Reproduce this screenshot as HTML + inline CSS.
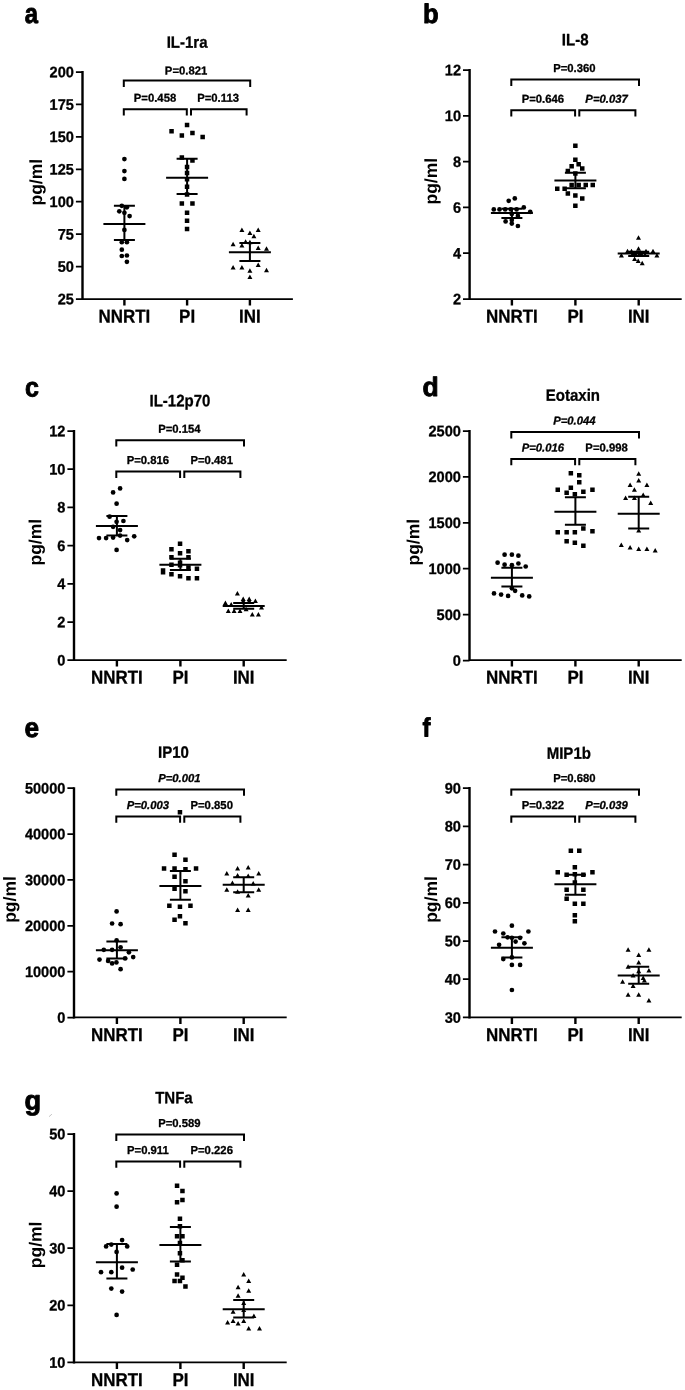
<!DOCTYPE html>
<html><head><meta charset="utf-8"><title>Figure</title>
<style>
html,body{margin:0;padding:0;background:#fff;}
svg{display:block;filter:grayscale(1);}
text{font-family:"Liberation Sans",Arial,sans-serif;font-weight:bold;fill:#000;stroke:#000;stroke-width:0.3px;stroke-linejoin:round;}
.lab{font-size:28px;stroke-width:0.9px;}
.ttl{font-size:16.5px;text-anchor:middle;}
.tk{font-size:15.2px;text-anchor:end;}
.xl{font-size:18.5px;text-anchor:middle;}
.yl{font-size:17.5px;text-anchor:middle;stroke-width:0;}
.p{font-size:11.5px;text-anchor:middle;}
.pi{font-size:11.5px;text-anchor:middle;font-style:italic;}
.ln{stroke:#000;stroke-width:2.0;fill:none;stroke-linecap:butt;}
.ax{stroke:#000;stroke-width:2.4;fill:none;stroke-linecap:butt;}
.hx{stroke:#000;stroke-width:1.75;fill:none;stroke-linecap:butt;}
</style></head><body>
<svg width="685" height="1390" viewBox="0 0 685 1390">
<rect width="685" height="1390" fill="#fff"/>

<g>
<text class="lab" style="font-size:28px" transform="translate(24.7 23) rotate(0.03) scale(0.85 1)">a</text>
<text class="ttl" transform="translate(187.1 47.8) rotate(0.03) scale(0.91 1)">IL-1ra</text>
<path class="ax" d="M82.5 71V300M124.4 299V305.6M187.1 299V305.6M249.9 299V305.6"/>
<path class="hx" d="M82.5 299H292.9M75.9 72H82.5M75.9 104.4H82.5M75.9 136.9H82.5M75.9 169.3H82.5M75.9 201.7H82.5M75.9 234.2H82.5M75.9 266.6H82.5M75.9 299H82.5"/>
<text class="tk" transform="translate(73.9 77.2) rotate(0.03) scale(0.96 1)">200</text>
<text class="tk" transform="translate(73.9 109.7) rotate(0.03) scale(0.96 1)">175</text>
<text class="tk" transform="translate(73.9 142.1) rotate(0.03) scale(0.96 1)">150</text>
<text class="tk" transform="translate(73.9 174.5) rotate(0.03) scale(0.96 1)">125</text>
<text class="tk" transform="translate(73.9 207) rotate(0.03) scale(0.96 1)">100</text>
<text class="tk" transform="translate(73.9 239.4) rotate(0.03) scale(0.96 1)">75</text>
<text class="tk" transform="translate(73.9 271.8) rotate(0.03) scale(0.96 1)">50</text>
<text class="tk" transform="translate(73.9 304.3) rotate(0.03) scale(0.96 1)">25</text>
<text class="xl" transform="translate(124.4 322.6) rotate(0.03) scale(0.915 1)">NNRTI</text>
<text class="xl" transform="translate(187.1 322.6) rotate(0.03) scale(0.915 1)">PI</text>
<text class="xl" transform="translate(249.9 322.6) rotate(0.03) scale(0.915 1)">INI</text>
<text class="yl" transform="translate(41.9 182.2) rotate(-89.97)">pg/ml</text>
<path class="ln" d="M123.8 86.9V80.6H250.2V86.9M123.8 115.6V109.3H186.8V115.6M191 115.6V109.3H246.6V115.6"/>
<text class="p" transform="translate(186.1 74.4) rotate(0.03) scale(0.985 1)">P=0.821</text>
<text class="p" transform="translate(155 101.8) rotate(0.03) scale(0.985 1)">P=0.458</text>
<text class="p" transform="translate(218.1 101.8) rotate(0.03) scale(0.985 1)">P=0.113</text>
<path class="ln" d="M103.4 224.1H145.4M113.9 205.8H134.9M113.9 239.9H134.9M124.4 205.8V239.9"/>
<circle cx="124.4" cy="159.1" r="2.35"/>
<circle cx="124.4" cy="171.1" r="2.35"/>
<circle cx="124.4" cy="178.9" r="2.35"/>
<circle cx="121.8" cy="205.8" r="2.35"/>
<circle cx="126.9" cy="207.3" r="2.35"/>
<circle cx="119.3" cy="211.3" r="2.35"/>
<circle cx="124.4" cy="212.8" r="2.35"/>
<circle cx="129.6" cy="216.1" r="2.35"/>
<circle cx="124.4" cy="229.9" r="2.35"/>
<circle cx="121.8" cy="242.2" r="2.35"/>
<circle cx="126.9" cy="242.2" r="2.35"/>
<circle cx="121.8" cy="249.7" r="2.35"/>
<circle cx="121.8" cy="256" r="2.35"/>
<circle cx="126.9" cy="255.5" r="2.35"/>
<circle cx="126.9" cy="261.8" r="2.35"/>
<path class="ln" d="M166.1 177.7H208.1M176.6 158.8H197.6M176.6 194H197.6M187.1 158.8V194"/>
<path d="M184.8 122.8h4.5v4.5h-4.5zM169.3 129.1h4.5v4.5h-4.5zM179.6 133.2h4.5v4.5h-4.5zM190.2 130.8h4.5v4.5h-4.5zM200.4 134.8h4.5v4.5h-4.5zM179.6 155.2h4.5v4.5h-4.5zM190.2 158.2h4.5v4.5h-4.5zM184.8 164.8h4.5v4.5h-4.5zM184.8 170.8h4.5v4.5h-4.5zM184.8 177.1h4.5v4.5h-4.5zM184.8 184.6h4.5v4.5h-4.5zM184.8 192.2h4.5v4.5h-4.5zM179.6 201.2h4.5v4.5h-4.5zM190.2 201.2h4.5v4.5h-4.5zM184.8 210.4h4.5v4.5h-4.5zM184.8 218.4h4.5v4.5h-4.5zM184.8 226.8h4.5v4.5h-4.5z"/>
<path class="ln" d="M228.9 252.2H270.9M239.4 242.9H260.4M239.4 261H260.4M249.9 242.9V261"/>
<path d="M241.9 227.5l2.5 4.5h-5zM249.9 230.5l2.5 4.5h-5zM258.2 227.5l2.5 4.5h-5zM253.9 233.8l2.5 4.5h-5zM245.6 239.2l2.5 4.5h-5zM249.9 239.8l2.5 4.5h-5zM233.1 241.8l2.5 4.5h-5zM241.9 243l2.5 4.5h-5zM258.2 245.6l2.5 4.5h-5zM266.5 246.2l2.5 4.5h-5zM233.1 264.9l2.5 4.5h-5zM241.9 264.9l2.5 4.5h-5zM258.2 262.6l2.5 4.5h-5zM249.9 268.2l2.5 4.5h-5zM266.5 267.7l2.5 4.5h-5zM249.9 274.4l2.5 4.5h-5z"/>
</g>
<g>
<text class="lab" style="font-size:27px" transform="translate(423.1 23) rotate(0.03) scale(0.95 1)">b</text>
<text class="ttl" transform="translate(575.2 45.3) rotate(0.03) scale(0.91 1)">IL-8</text>
<path class="ax" d="M469.6 69.1V300M511.9 299V305.6M575.4 299V305.6M638.7 299V305.6"/>
<path class="hx" d="M469.6 299H681.7M463 70.1H469.6M463 115.9H469.6M463 161.7H469.6M463 207.4H469.6M463 253.2H469.6M463 299H469.6"/>
<text class="tk" transform="translate(461 75.3) rotate(0.03) scale(0.96 1)">12</text>
<text class="tk" transform="translate(461 121.1) rotate(0.03) scale(0.96 1)">10</text>
<text class="tk" transform="translate(461 166.9) rotate(0.03) scale(0.96 1)">8</text>
<text class="tk" transform="translate(461 212.7) rotate(0.03) scale(0.96 1)">6</text>
<text class="tk" transform="translate(461 258.5) rotate(0.03) scale(0.96 1)">4</text>
<text class="tk" transform="translate(461 304.2) rotate(0.03) scale(0.96 1)">2</text>
<text class="xl" transform="translate(511.9 322.6) rotate(0.03) scale(0.915 1)">NNRTI</text>
<text class="xl" transform="translate(575.4 322.6) rotate(0.03) scale(0.915 1)">PI</text>
<text class="xl" transform="translate(638.7 322.6) rotate(0.03) scale(0.915 1)">INI</text>
<text class="yl" transform="translate(437 181.2) rotate(-89.97)">pg/ml</text>
<path class="ln" d="M511.3 85.9V79.6H639V85.9M511.3 116.6V110.3H575.1V116.6M579.3 116.6V110.3H635.4V116.6"/>
<text class="p" transform="translate(574.4 72.1) rotate(0.03) scale(0.985 1)">P=0.360</text>
<text class="p" transform="translate(542.9 102.8) rotate(0.03) scale(0.985 1)">P=0.646</text>
<text class="pi" transform="translate(606.6 102.8) rotate(0.03) scale(0.985 1)">P=0.037</text>
<path class="ln" d="M490.9 213.1H532.9M501.4 208.7H522.4M501.4 217.9H522.4M511.9 208.7V217.9"/>
<circle cx="514.8" cy="198.4" r="2.35"/>
<circle cx="508.7" cy="200.8" r="2.35"/>
<circle cx="523.8" cy="207.4" r="2.35"/>
<circle cx="493.8" cy="209.4" r="2.35"/>
<circle cx="499.5" cy="209.4" r="2.35"/>
<circle cx="505.2" cy="209.4" r="2.35"/>
<circle cx="510.9" cy="209.4" r="2.35"/>
<circle cx="516.6" cy="209.4" r="2.35"/>
<circle cx="530.2" cy="211.8" r="2.35"/>
<circle cx="517.9" cy="215.9" r="2.35"/>
<circle cx="505.6" cy="221.4" r="2.35"/>
<circle cx="511.8" cy="220.1" r="2.35"/>
<circle cx="511.8" cy="223.6" r="2.35"/>
<circle cx="517.9" cy="226" r="2.35"/>
<circle cx="511.8" cy="214" r="2.35"/>
<path class="ln" d="M554.4 180.6H596.4M564.9 172.8H585.9M564.9 188.3H585.9M575.4 172.8V188.3"/>
<path d="M573.1 143.4h4.5v4.5h-4.5zM573.1 157.4h4.5v4.5h-4.5zM576.4 161.9h4.5v4.5h-4.5zM569.4 163.9h4.5v4.5h-4.5zM580 166.2h4.5v4.5h-4.5zM565.6 168.8h4.5v4.5h-4.5zM573.1 171.2h4.5v4.5h-4.5zM569.4 182.8h4.5v4.5h-4.5zM576.4 182.8h4.5v4.5h-4.5zM583.5 182.8h4.5v4.5h-4.5zM590.5 182.8h4.5v4.5h-4.5zM555 186.6h4.5v4.5h-4.5zM562.4 186.6h4.5v4.5h-4.5zM565.6 191.3h4.5v4.5h-4.5zM573.1 193.3h4.5v4.5h-4.5zM580 196.3h4.5v4.5h-4.5zM573.1 203.4h4.5v4.5h-4.5z"/>
<path class="ln" d="M617.7 253.5H659.7M628.2 251.8H649.2M628.2 256H649.2M638.7 251.8V256"/>
<path d="M638.5 235.2l2.5 4.5h-5zM638.5 246.2l2.5 4.5h-5zM627.5 248.8l2.5 4.5h-5zM631.5 248.8l2.5 4.5h-5zM646 248.8l2.5 4.5h-5zM653 248.8l2.5 4.5h-5zM621.4 252.9l2.5 4.5h-5zM656.9 253l2.5 4.5h-5zM634.6 256.4l2.5 4.5h-5zM638.2 258.6l2.5 4.5h-5zM642.2 260.8l2.5 4.5h-5zM633 251.1l2.5 4.5h-5zM641 251.1l2.5 4.5h-5zM645 252.6l2.5 4.5h-5zM636 252.6l2.5 4.5h-5z"/>
</g>
<g>
<text class="lab" style="font-size:27.3px" transform="translate(24.9 396.4) rotate(0.03) scale(0.917 1)">c</text>
<text class="ttl" transform="translate(179.9 406.3) rotate(0.03) scale(0.91 1)">IL-12p70</text>
<path class="ax" d="M74 430V661M116.9 660V666.6M180.4 660V666.6M243.7 660V666.6"/>
<path class="hx" d="M74 660H286.7M67.4 431H74M67.4 469.2H74M67.4 507.4H74M67.4 545.6H74M67.4 583.8H74M67.4 622H74M67.4 660.2H74"/>
<text class="tk" transform="translate(65.4 436.2) rotate(0.03) scale(0.96 1)">12</text>
<text class="tk" transform="translate(65.4 474.4) rotate(0.03) scale(0.96 1)">10</text>
<text class="tk" transform="translate(65.4 512.6) rotate(0.03) scale(0.96 1)">8</text>
<text class="tk" transform="translate(65.4 550.9) rotate(0.03) scale(0.96 1)">6</text>
<text class="tk" transform="translate(65.4 589) rotate(0.03) scale(0.96 1)">4</text>
<text class="tk" transform="translate(65.4 627.2) rotate(0.03) scale(0.96 1)">2</text>
<text class="tk" transform="translate(65.4 665.5) rotate(0.03) scale(0.96 1)">0</text>
<text class="xl" transform="translate(116.9 683.6) rotate(0.03) scale(0.915 1)">NNRTI</text>
<text class="xl" transform="translate(180.4 683.6) rotate(0.03) scale(0.915 1)">PI</text>
<text class="xl" transform="translate(243.7 683.6) rotate(0.03) scale(0.915 1)">INI</text>
<text class="yl" transform="translate(41.3 542.2) rotate(-89.97)">pg/ml</text>
<path class="ln" d="M116.3 446.5V440.2H244V446.5M116.3 477.9V471.6H180.1V477.9M184.3 477.9V471.6H240.4V477.9"/>
<text class="p" transform="translate(179.4 432.7) rotate(0.03) scale(0.985 1)">P=0.154</text>
<text class="p" transform="translate(147.9 464.1) rotate(0.03) scale(0.985 1)">P=0.816</text>
<text class="p" transform="translate(211.7 464.1) rotate(0.03) scale(0.985 1)">P=0.481</text>
<path class="ln" d="M95.9 526H137.9M106.4 516H127.4M106.4 535.6H127.4M116.9 516V535.6"/>
<circle cx="120.1" cy="488.4" r="2.35"/>
<circle cx="113.1" cy="492.4" r="2.35"/>
<circle cx="116.6" cy="503.7" r="2.35"/>
<circle cx="109.6" cy="516.7" r="2.35"/>
<circle cx="116.6" cy="521.8" r="2.35"/>
<circle cx="123.4" cy="521" r="2.35"/>
<circle cx="113.1" cy="526.8" r="2.35"/>
<circle cx="120.1" cy="530.1" r="2.35"/>
<circle cx="99" cy="538.1" r="2.35"/>
<circle cx="106.1" cy="538.1" r="2.35"/>
<circle cx="113.1" cy="537.6" r="2.35"/>
<circle cx="120.1" cy="535.6" r="2.35"/>
<circle cx="127.2" cy="540.1" r="2.35"/>
<circle cx="134.2" cy="536.3" r="2.35"/>
<circle cx="116.6" cy="549.9" r="2.35"/>
<path class="ln" d="M159.4 564.8H201.4M169.9 558.7H190.9M169.9 569.9H190.9M180.4 558.7V569.9"/>
<path d="M177.8 541.4h4.5v4.5h-4.5zM169.2 547h4.5v4.5h-4.5zM186.2 549.1h4.5v4.5h-4.5zM177.8 551.1h4.5v4.5h-4.5zM169.2 555.1h4.5v4.5h-4.5zM186.2 555.1h4.5v4.5h-4.5zM177.8 560.4h4.5v4.5h-4.5zM169.2 562.5h4.5v4.5h-4.5zM177.8 563h4.5v4.5h-4.5zM186.2 565.2h4.5v4.5h-4.5zM194.7 566.5h4.5v4.5h-4.5zM160.8 568.2h4.5v4.5h-4.5zM160.8 570h4.5v4.5h-4.5zM169.2 572h4.5v4.5h-4.5zM177.8 574h4.5v4.5h-4.5zM186.2 576h4.5v4.5h-4.5zM194.7 576h4.5v4.5h-4.5z"/>
<path class="ln" d="M222.7 605.9H264.7M233.2 602.9H254.2M233.2 608.8H254.2M243.7 602.9V608.8"/>
<path d="M237.4 591.1l2.5 4.5h-5zM243.2 596.6l2.5 4.5h-5zM243.2 598.4l2.5 4.5h-5zM249.2 596.6l2.5 4.5h-5zM249.2 598.4l2.5 4.5h-5zM255.4 598.6l2.5 4.5h-5zM225.4 600.6l2.5 4.5h-5zM231.2 601.9l2.5 4.5h-5zM228.3 608.5l2.5 4.5h-5zM234.1 608.5l2.5 4.5h-5zM240 608.5l2.5 4.5h-5zM252.3 612.1l2.5 4.5h-5zM258.4 612.1l2.5 4.5h-5zM261.5 605.1l2.5 4.5h-5zM246.1 606.8l2.5 4.5h-5z"/>
</g>
<g>
<text class="lab" style="font-size:26.8px" transform="translate(422.5 396) rotate(0.03) scale(0.99 1)">d</text>
<text class="ttl" transform="translate(572.9 400.7) rotate(0.03) scale(0.91 1)">Eotaxin</text>
<path class="ax" d="M469.5 430V661M511.9 660V666.6M575.4 660V666.6M638.7 660V666.6"/>
<path class="hx" d="M469.5 660H681.7M462.9 431H469.5M462.9 476.9H469.5M462.9 522.8H469.5M462.9 568.7H469.5M462.9 614.6H469.5M462.9 660.5H469.5"/>
<text class="tk" transform="translate(460.9 436.2) rotate(0.03) scale(0.96 1)">2500</text>
<text class="tk" transform="translate(460.9 482.1) rotate(0.03) scale(0.96 1)">2000</text>
<text class="tk" transform="translate(460.9 528) rotate(0.03) scale(0.96 1)">1500</text>
<text class="tk" transform="translate(460.9 574) rotate(0.03) scale(0.96 1)">1000</text>
<text class="tk" transform="translate(460.9 619.9) rotate(0.03) scale(0.96 1)">500</text>
<text class="tk" transform="translate(460.9 665.8) rotate(0.03) scale(0.96 1)">0</text>
<text class="xl" transform="translate(511.9 683.6) rotate(0.03) scale(0.915 1)">NNRTI</text>
<text class="xl" transform="translate(575.4 683.6) rotate(0.03) scale(0.915 1)">PI</text>
<text class="xl" transform="translate(638.7 683.6) rotate(0.03) scale(0.915 1)">INI</text>
<text class="yl" transform="translate(419.2 542.2) rotate(-89.97)">pg/ml</text>
<path class="ln" d="M511.3 438.4V432.1H639V438.4M511.3 465.3V459H575.1V465.3M579.3 465.3V459H635.4V465.3"/>
<text class="pi" transform="translate(574.4 424.6) rotate(0.03) scale(0.985 1)">P=0.044</text>
<text class="pi" transform="translate(542.9 451.5) rotate(0.03) scale(0.985 1)">P=0.016</text>
<text class="p" transform="translate(606.6 451.5) rotate(0.03) scale(0.985 1)">P=0.998</text>
<path class="ln" d="M490.9 577.8H532.9M501.4 567.7H522.4M501.4 586.6H522.4M511.9 567.7V586.6"/>
<circle cx="504.6" cy="554.7" r="2.35"/>
<circle cx="511.9" cy="554.7" r="2.35"/>
<circle cx="518.4" cy="555.7" r="2.35"/>
<circle cx="497.6" cy="562.7" r="2.35"/>
<circle cx="504.6" cy="564.7" r="2.35"/>
<circle cx="511.9" cy="565.2" r="2.35"/>
<circle cx="518.4" cy="563.5" r="2.35"/>
<circle cx="525.7" cy="566.5" r="2.35"/>
<circle cx="511.9" cy="588.3" r="2.35"/>
<circle cx="515.1" cy="590.8" r="2.35"/>
<circle cx="494" cy="593.4" r="2.35"/>
<circle cx="501.1" cy="594.6" r="2.35"/>
<circle cx="508.1" cy="595.9" r="2.35"/>
<circle cx="522.2" cy="595.4" r="2.35"/>
<circle cx="529.2" cy="596.4" r="2.35"/>
<path class="ln" d="M554.4 511.7H596.4M564.9 497.2H585.9M564.9 524.8H585.9M575.4 497.2V524.8"/>
<path d="M568.6 471.1h4.5v4.5h-4.5zM577 473.1h4.5v4.5h-4.5zM577 480.1h4.5v4.5h-4.5zM568.6 485.6h4.5v4.5h-4.5zM555.5 487.4h4.5v4.5h-4.5zM564.4 490.6h4.5v4.5h-4.5zM572.6 491.9h4.5v4.5h-4.5zM581.1 489.4h4.5v4.5h-4.5zM590.2 487.4h4.5v4.5h-4.5zM555.5 530h4.5v4.5h-4.5zM564.4 530h4.5v4.5h-4.5zM572.6 530h4.5v4.5h-4.5zM581.1 526.2h4.5v4.5h-4.5zM590.2 528.9h4.5v4.5h-4.5zM564.4 539.1h4.5v4.5h-4.5zM572.6 540.4h4.5v4.5h-4.5zM581.1 543.4h4.5v4.5h-4.5z"/>
<path class="ln" d="M617.7 513.7H659.7M628.2 496.7H649.2M628.2 528.5H649.2M638.7 496.7V528.5"/>
<path d="M638.7 471.2l2.5 4.5h-5zM638.7 477.9l2.5 4.5h-5zM630.1 482.4l2.5 4.5h-5zM646.9 482.4l2.5 4.5h-5zM634.4 487.2l2.5 4.5h-5zM643.2 492.4l2.5 4.5h-5zM625.6 495.4l2.5 4.5h-5zM634.4 495.4l2.5 4.5h-5zM650.7 500.4l2.5 4.5h-5zM638.7 528.1l2.5 4.5h-5zM621.3 542.4l2.5 4.5h-5zM630.1 545.1l2.5 4.5h-5zM638.7 546.4l2.5 4.5h-5zM646.9 546.4l2.5 4.5h-5zM655.2 548.1l2.5 4.5h-5z"/>
</g>
<g>
<text class="lab" style="font-size:27.6px" transform="translate(24.4 737) rotate(0.03) scale(0.948 1)">e</text>
<text class="ttl" transform="translate(173.4 757.8) rotate(0.03) scale(0.91 1)">IP10</text>
<path class="ax" d="M74 787.2V1018.4M116.9 1017.4V1024M180.4 1017.4V1024M243.7 1017.4V1024"/>
<path class="hx" d="M74 1017.4H286.7M67.4 788.2H74M67.4 834.1H74M67.4 879.9H74M67.4 925.8H74M67.4 971.6H74M67.4 1017.5H74"/>
<text class="tk" transform="translate(65.4 793.5) rotate(0.03) scale(0.96 1)">50000</text>
<text class="tk" transform="translate(65.4 839.3) rotate(0.03) scale(0.96 1)">40000</text>
<text class="tk" transform="translate(65.4 885.2) rotate(0.03) scale(0.96 1)">30000</text>
<text class="tk" transform="translate(65.4 931) rotate(0.03) scale(0.96 1)">20000</text>
<text class="tk" transform="translate(65.4 976.9) rotate(0.03) scale(0.96 1)">10000</text>
<text class="tk" transform="translate(65.4 1022.7) rotate(0.03) scale(0.96 1)">0</text>
<text class="xl" transform="translate(116.9 1041) rotate(0.03) scale(0.915 1)">NNRTI</text>
<text class="xl" transform="translate(180.4 1041) rotate(0.03) scale(0.915 1)">PI</text>
<text class="xl" transform="translate(243.7 1041) rotate(0.03) scale(0.915 1)">INI</text>
<text class="yl" transform="translate(15.8 899.5) rotate(-89.97)">pg/ml</text>
<path class="ln" d="M116.3 795.7V789.4H244V795.7M116.3 822.8V816.5H180.1V822.8M184.3 822.8V816.5H240.4V822.8"/>
<text class="pi" transform="translate(179.4 781.9) rotate(0.03) scale(0.985 1)">P=0.001</text>
<text class="pi" transform="translate(147.9 809) rotate(0.03) scale(0.985 1)">P=0.003</text>
<text class="p" transform="translate(211.7 809) rotate(0.03) scale(0.985 1)">P=0.850</text>
<path class="ln" d="M95.9 950.3H137.9M106.4 941.6H127.4M106.4 958.4H127.4M116.9 941.6V958.4"/>
<circle cx="116.6" cy="911.4" r="2.35"/>
<circle cx="112.1" cy="923.5" r="2.35"/>
<circle cx="120.6" cy="924.2" r="2.35"/>
<circle cx="116.6" cy="940.3" r="2.35"/>
<circle cx="120.6" cy="947.3" r="2.35"/>
<circle cx="103.8" cy="949.8" r="2.35"/>
<circle cx="112.1" cy="949.8" r="2.35"/>
<circle cx="128.9" cy="952.3" r="2.35"/>
<circle cx="133.2" cy="957.1" r="2.35"/>
<circle cx="99.5" cy="959.6" r="2.35"/>
<circle cx="108.1" cy="960.9" r="2.35"/>
<circle cx="125.1" cy="958.4" r="2.35"/>
<circle cx="112.1" cy="963.4" r="2.35"/>
<circle cx="116.4" cy="962.4" r="2.35"/>
<circle cx="120.6" cy="969.2" r="2.35"/>
<path class="ln" d="M159.4 886H201.4M169.9 871H190.9M169.9 899.8H190.9M180.4 871V899.8"/>
<path d="M177.7 810h4.5v4.5h-4.5zM172.3 852.5h4.5v4.5h-4.5zM183.2 857.5h4.5v4.5h-4.5zM161.8 866.2h4.5v4.5h-4.5zM172.3 866.2h4.5v4.5h-4.5zM183.2 867h4.5v4.5h-4.5zM193.8 866.2h4.5v4.5h-4.5zM172.3 874.5h4.5v4.5h-4.5zM183.2 879h4.5v4.5h-4.5zM172.3 886.5h4.5v4.5h-4.5zM183.2 889h4.5v4.5h-4.5zM167.1 903.4h4.5v4.5h-4.5zM177.7 904.6h4.5v4.5h-4.5zM188.2 903.4h4.5v4.5h-4.5zM177.7 914.1h4.5v4.5h-4.5zM172.3 917.6h4.5v4.5h-4.5zM183.2 921h4.5v4.5h-4.5z"/>
<path class="ln" d="M222.7 884.8H264.7M233.2 877.2H254.2M233.2 892.3H254.2M243.7 877.2V892.3"/>
<path d="M237.6 866l2.5 4.5h-5zM248.2 865l2.5 4.5h-5zM226.8 871l2.5 4.5h-5zM258.7 871l2.5 4.5h-5zM237.6 873l2.5 4.5h-5zM248.2 873.5l2.5 4.5h-5zM232.4 880.5l2.5 4.5h-5zM253.2 881l2.5 4.5h-5zM226.8 887.3l2.5 4.5h-5zM258.7 887.3l2.5 4.5h-5zM237.6 889.3l2.5 4.5h-5zM248.2 893.1l2.5 4.5h-5zM237.6 907.4l2.5 4.5h-5zM248.2 907.4l2.5 4.5h-5z"/>
</g>
<g>
<text class="lab" style="font-size:26.5px" transform="translate(422.5 736.6) rotate(0.03) scale(0.9 1)">f</text>
<text class="ttl" transform="translate(568.8 758.7) rotate(0.03) scale(0.91 1)">MIP1b</text>
<path class="ax" d="M469.5 787.1V1018.4M511.9 1017.4V1024M575.4 1017.4V1024M638.7 1017.4V1024"/>
<path class="hx" d="M469.5 1017.4H681.7M462.9 788.1H469.5M462.9 826.4H469.5M462.9 864.6H469.5M462.9 902.8H469.5M462.9 941H469.5M462.9 979.2H469.5M462.9 1017.4H469.5"/>
<text class="tk" transform="translate(460.9 793.4) rotate(0.03) scale(0.96 1)">90</text>
<text class="tk" transform="translate(460.9 831.6) rotate(0.03) scale(0.96 1)">80</text>
<text class="tk" transform="translate(460.9 869.8) rotate(0.03) scale(0.96 1)">70</text>
<text class="tk" transform="translate(460.9 908) rotate(0.03) scale(0.96 1)">60</text>
<text class="tk" transform="translate(460.9 946.2) rotate(0.03) scale(0.96 1)">50</text>
<text class="tk" transform="translate(460.9 984.5) rotate(0.03) scale(0.96 1)">40</text>
<text class="tk" transform="translate(460.9 1022.7) rotate(0.03) scale(0.96 1)">30</text>
<text class="xl" transform="translate(511.9 1041) rotate(0.03) scale(0.915 1)">NNRTI</text>
<text class="xl" transform="translate(575.4 1041) rotate(0.03) scale(0.915 1)">PI</text>
<text class="xl" transform="translate(638.7 1041) rotate(0.03) scale(0.915 1)">INI</text>
<text class="yl" transform="translate(437 899.5) rotate(-89.97)">pg/ml</text>
<path class="ln" d="M511.3 795.7V789.4H639V795.7M511.3 822.8V816.5H575.1V822.8M579.3 822.8V816.5H635.4V822.8"/>
<text class="p" transform="translate(574.4 781.9) rotate(0.03) scale(0.985 1)">P=0.680</text>
<text class="p" transform="translate(542.9 809) rotate(0.03) scale(0.985 1)">P=0.322</text>
<text class="pi" transform="translate(606.6 809) rotate(0.03) scale(0.985 1)">P=0.039</text>
<path class="ln" d="M490.9 947.8H532.9M501.4 937.3H522.4M501.4 957.4H522.4M511.9 937.3V957.4"/>
<circle cx="511.9" cy="925.7" r="2.35"/>
<circle cx="495" cy="931.5" r="2.35"/>
<circle cx="503.3" cy="933.5" r="2.35"/>
<circle cx="528.4" cy="931.5" r="2.35"/>
<circle cx="507.6" cy="937.3" r="2.35"/>
<circle cx="520.1" cy="937.8" r="2.35"/>
<circle cx="515.6" cy="941.6" r="2.35"/>
<circle cx="524.4" cy="943.3" r="2.35"/>
<circle cx="499.1" cy="944.8" r="2.35"/>
<circle cx="503.3" cy="959.1" r="2.35"/>
<circle cx="511.9" cy="964.9" r="2.35"/>
<circle cx="520.1" cy="964.9" r="2.35"/>
<circle cx="511.9" cy="990" r="2.35"/>
<circle cx="511.9" cy="937.8" r="2.35"/>
<circle cx="511.9" cy="957.4" r="2.35"/>
<path class="ln" d="M554.4 884.3H596.4M564.9 874.7H585.9M564.9 894.8H585.9M575.4 874.7V894.8"/>
<path d="M568.6 848.6h4.5v4.5h-4.5zM577 848.6h4.5v4.5h-4.5zM572.6 865h4.5v4.5h-4.5zM555.5 870h4.5v4.5h-4.5zM564.4 872.5h4.5v4.5h-4.5zM572.6 872h4.5v4.5h-4.5zM581.1 872.5h4.5v4.5h-4.5zM590.2 870h4.5v4.5h-4.5zM572.6 880.2h4.5v4.5h-4.5zM564.4 887.5h4.5v4.5h-4.5zM581.1 887.5h4.5v4.5h-4.5zM564.4 896.5h4.5v4.5h-4.5zM572.6 901.6h4.5v4.5h-4.5zM581.1 901.6h4.5v4.5h-4.5zM572.6 913h4.5v4.5h-4.5zM572.6 919h4.5v4.5h-4.5z"/>
<path class="ln" d="M617.7 975.4H659.7M628.2 966.7H649.2M628.2 983.7H649.2M638.7 966.7V983.7"/>
<path d="M628.1 947.3l2.5 4.5h-5zM648.9 947.3l2.5 4.5h-5zM638.7 952.4l2.5 4.5h-5zM638.7 959.9l2.5 4.5h-5zM628.1 964.2l2.5 4.5h-5zM648.9 967.9l2.5 4.5h-5zM638.7 968.8l2.5 4.5h-5zM633.1 972.9l2.5 4.5h-5zM643.2 975.5l2.5 4.5h-5zM622.6 979.2l2.5 4.5h-5zM644.4 978l2.5 4.5h-5zM633.1 983.5l2.5 4.5h-5zM628.1 992.3l2.5 4.5h-5zM638.7 992.3l2.5 4.5h-5zM648.9 998.1l2.5 4.5h-5z"/>
</g>
<g>
<text class="lab" style="font-size:27.5px" transform="translate(24.4 1109.8) rotate(0.03) scale(0.99 1)">g</text>
<text class="ttl" transform="translate(173.9 1103.3) rotate(0.03) scale(0.91 1)">TNFa</text>
<path class="ax" d="M74 1133V1363.4M116.9 1362.4V1369M180.4 1362.4V1369M243.7 1362.4V1369"/>
<path class="hx" d="M74 1362.4H286.7M67.4 1134H74M67.4 1191.1H74M67.4 1248.2H74M67.4 1305.3H74M67.4 1362.4H74"/>
<text class="tk" transform="translate(65.4 1139.2) rotate(0.03) scale(0.96 1)">50</text>
<text class="tk" transform="translate(65.4 1196.3) rotate(0.03) scale(0.96 1)">40</text>
<text class="tk" transform="translate(65.4 1253.5) rotate(0.03) scale(0.96 1)">30</text>
<text class="tk" transform="translate(65.4 1310.5) rotate(0.03) scale(0.96 1)">20</text>
<text class="tk" transform="translate(65.4 1367.7) rotate(0.03) scale(0.96 1)">10</text>
<text class="xl" transform="translate(116.9 1386) rotate(0.03) scale(0.915 1)">NNRTI</text>
<text class="xl" transform="translate(180.4 1386) rotate(0.03) scale(0.915 1)">PI</text>
<text class="xl" transform="translate(243.7 1386) rotate(0.03) scale(0.915 1)">INI</text>
<text class="yl" transform="translate(41.4 1244.9) rotate(-89.97)">pg/ml</text>
<path class="ln" d="M116.3 1140.9V1134.6H244V1140.9M116.3 1167.7V1161.4H180.1V1167.7M184.3 1167.7V1161.4H240.4V1167.7"/>
<text class="p" transform="translate(179.4 1127.1) rotate(0.03) scale(0.985 1)">P=0.589</text>
<text class="p" transform="translate(147.9 1153.9) rotate(0.03) scale(0.985 1)">P=0.911</text>
<text class="p" transform="translate(211.7 1153.9) rotate(0.03) scale(0.985 1)">P=0.226</text>
<path class="ln" d="M95.9 1262.2H137.9M106.4 1243.9H127.4M106.4 1278.5H127.4M116.9 1243.9V1278.5"/>
<circle cx="116.6" cy="1193.4" r="2.35"/>
<circle cx="116.6" cy="1206.7" r="2.35"/>
<circle cx="122.1" cy="1240.1" r="2.35"/>
<circle cx="106.1" cy="1246.4" r="2.35"/>
<circle cx="111.3" cy="1244.6" r="2.35"/>
<circle cx="127.2" cy="1246.4" r="2.35"/>
<circle cx="116.6" cy="1251.9" r="2.35"/>
<circle cx="122.1" cy="1267.7" r="2.35"/>
<circle cx="101" cy="1272.2" r="2.35"/>
<circle cx="111.3" cy="1272.2" r="2.35"/>
<circle cx="132.7" cy="1269.5" r="2.35"/>
<circle cx="111.3" cy="1288.6" r="2.35"/>
<circle cx="122.1" cy="1291.6" r="2.35"/>
<circle cx="116.6" cy="1314.9" r="2.35"/>
<path class="ln" d="M159.4 1245.1H201.4M169.9 1227.1H190.9M169.9 1261.4H190.9M180.4 1227.1V1261.4"/>
<path d="M174.8 1183.5h4.5v4.5h-4.5zM180.2 1188.8h4.5v4.5h-4.5zM174.8 1200h4.5v4.5h-4.5zM180.2 1197.7h4.5v4.5h-4.5zM177.7 1216.5h4.5v4.5h-4.5zM177.7 1224h4.5v4.5h-4.5zM174.8 1234h4.5v4.5h-4.5zM180.2 1234h4.5v4.5h-4.5zM177.7 1240.8h4.5v4.5h-4.5zM177.7 1251h4.5v4.5h-4.5zM180.2 1258h4.5v4.5h-4.5zM174.8 1262.5h4.5v4.5h-4.5zM174.8 1272.2h4.5v4.5h-4.5zM180.2 1275.5h4.5v4.5h-4.5zM172.3 1278.8h4.5v4.5h-4.5zM177.7 1278.8h4.5v4.5h-4.5zM183.2 1284.3h4.5v4.5h-4.5z"/>
<path class="ln" d="M222.7 1309.2H264.7M233.2 1299.9H254.2M233.2 1317.4H254.2M243.7 1299.9V1317.4"/>
<path d="M243.7 1272l2.5 4.5h-5zM248.7 1278.5l2.5 4.5h-5zM238.1 1284.8l2.5 4.5h-5zM248.7 1288.3l2.5 4.5h-5zM238.1 1293.3l2.5 4.5h-5zM243.7 1300.5l2.5 4.5h-5zM233.1 1309.2l2.5 4.5h-5zM243.7 1307.5l2.5 4.5h-5zM253.9 1313.5l2.5 4.5h-5zM227.6 1320l2.5 4.5h-5zM233.1 1318.5l2.5 4.5h-5zM238.1 1321l2.5 4.5h-5zM243.7 1318.5l2.5 4.5h-5zM248.7 1326l2.5 4.5h-5zM259.5 1326l2.5 4.5h-5z"/>
</g>
<path d="M49 1116.7L51.9 1114.2" stroke="#9a9a9a" stroke-width="0.6" fill="none"/>
</svg></body></html>
